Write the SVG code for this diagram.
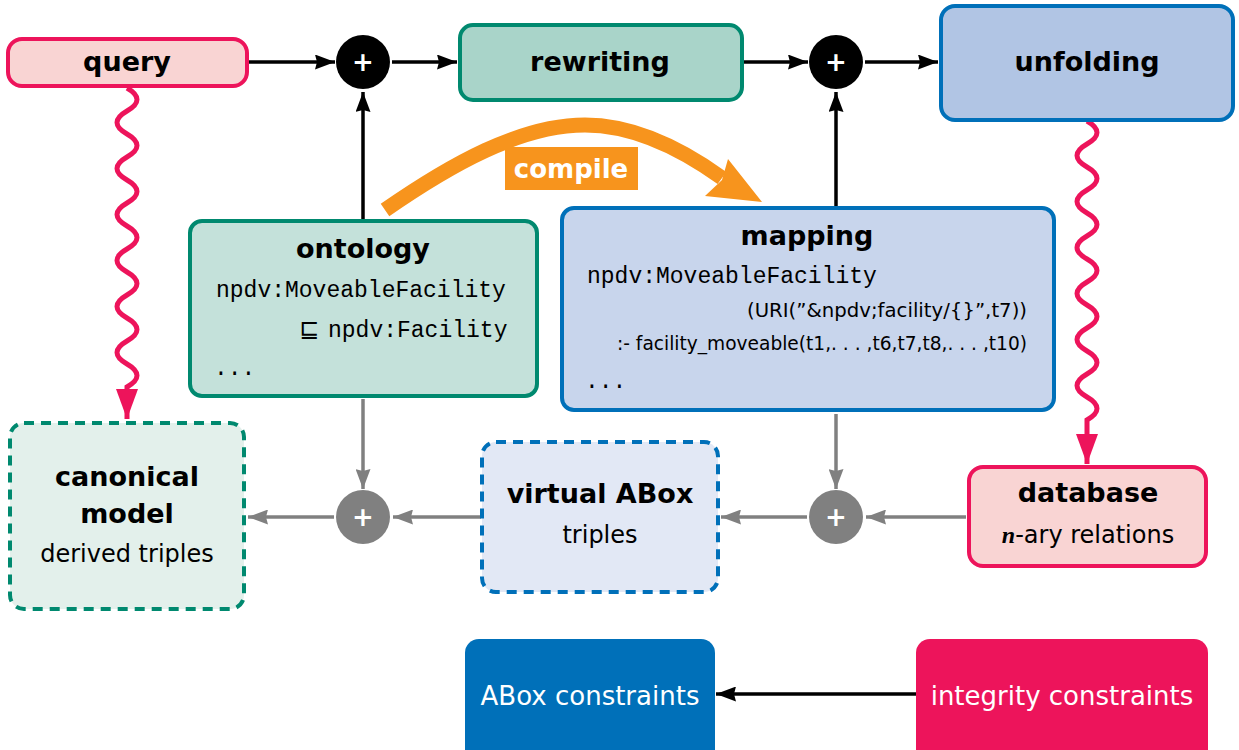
<svg xmlns="http://www.w3.org/2000/svg" width="1239" height="750" viewBox="0 0 1239 750">
<style>
.b{font-family:"DejaVu Sans","Liberation Sans",sans-serif;font-weight:bold;font-size:27px;fill:#000;text-anchor:middle}
.r{font-family:"DejaVu Sans","Liberation Sans",sans-serif;font-size:24px;fill:#000;text-anchor:middle}
.m{font-family:"Liberation Mono","DejaVu Sans Mono",monospace;font-size:23px;fill:#000}
.s{font-family:"DejaVu Sans","Liberation Sans",sans-serif;font-size:20px;fill:#000;text-anchor:end}
.w{font-family:"DejaVu Sans","Liberation Sans",sans-serif;font-size:26px;fill:#fff;text-anchor:middle}
.pl{font-family:"DejaVu Sans",sans-serif;font-weight:bold;font-size:26px;fill:#fff;text-anchor:middle}
.ca{stroke:#000;stroke-width:3.5;fill:none;marker-end:url(#ab)}
.ga{stroke:#808080;stroke-width:3.5;fill:none;marker-end:url(#ag)}
.wv{stroke:#ed145b;stroke-width:5;fill:none;marker-end:url(#ap)}
.pink{fill:#f9d4d3;stroke:#ed145b;stroke-width:4}
.teal{stroke:#00896f;stroke-width:4}
.blue{stroke:#0070b9;stroke-width:4}
.dash{stroke-dasharray:10 7}
</style>
<defs>
<marker id="ab" markerUnits="userSpaceOnUse" viewBox="0 0 20 15" markerWidth="20" markerHeight="15" refX="20" refY="7.5" orient="auto"><path d="M0,0 L20,7.5 L0,15 L2,7.5 z" fill="#000"/></marker>
<marker id="ag" markerUnits="userSpaceOnUse" viewBox="0 0 20 15" markerWidth="20" markerHeight="15" refX="20" refY="7.5" orient="auto"><path d="M0,0 L20,7.5 L0,15 L2,7.5 z" fill="#808080"/></marker>
<marker id="ap" markerUnits="userSpaceOnUse" viewBox="0 0 30 22" markerWidth="30" markerHeight="22" refX="30" refY="11" orient="auto"><path d="M0,0 L30,11 L0,22 z" fill="#ed145b"/></marker>
</defs>
<rect width="1239" height="750" fill="#fff"/>

<g id="connectors">
<path class="ca" d="M248,62 L335,62"/>
<path class="ca" d="M392,62 L457,62"/>
<path class="ca" d="M363,219 L363,92"/>
<path class="ca" d="M744,62 L808,62"/>
<path class="ca" d="M865,62 L938,62"/>
<path class="ca" d="M836,206 L836,92"/>
<path class="ca" d="M916,694 L716,694"/>
<path class="ga" d="M363,399 L363,489"/>
<path class="ga" d="M334,517 L248,517"/>
<path class="ga" d="M481,517 L393,517"/>
<path class="ga" d="M836,414 L836,489"/>
<path class="ga" d="M807,517 L721,517"/>
<path class="ga" d="M966,517 L866,517"/>
<path class="wv" d="M127,88 q20,11.5 0,23 t0,23 t0,23 t0,23 t0,23 t0,23 t0,23 t0,23 t0,23 t0,23 t0,23 t0,23 t0,23 L127,419"/>
<path class="wv" d="M1087,121 q20,11.5 0,23 t0,23 t0,23 t0,23 t0,23 t0,23 t0,23 t0,23 t0,23 t0,23 t0,23 t0,23 t0,23 L1087,464"/>
<g id="compile">
<path d="M385,210 C450,165 520,125 585,125 C640,125 690,155 722,178" fill="none" stroke="#f7941d" stroke-width="15"/>
<polygon points="762,202 728,159 722,180 705,196" fill="#f7941d"/>
<rect x="505" y="147" width="133" height="43" fill="#f7941d"/>
<text class="pl" x="571" y="178">compile</text>
</g>
</g>

<g id="query"><rect class="pink" x="8" y="39" width="239" height="47" rx="14"/><text class="b" x="127" y="71">query</text></g>
<g id="plus1"><circle cx="363" cy="62" r="27" fill="#000"/><text class="pl" x="363" y="71">+</text></g>
<g id="rewriting"><rect class="teal" x="460" y="25" width="282" height="75" rx="13" fill="#a9d4c9"/><text class="b" x="600" y="71">rewriting</text></g>
<g id="plus2"><circle cx="836" cy="62" r="27" fill="#000"/><text class="pl" x="836" y="71">+</text></g>
<g id="unfolding"><rect class="blue" x="941" y="6" width="292" height="114" rx="14" fill="#b1c5e4"/><text class="b" x="1087" y="71">unfolding</text></g>

<g id="ontology"><rect class="teal" x="190" y="221" width="347" height="175" rx="12" fill="#c4e1da"/>
<text class="b" x="363" y="258">ontology</text>
<text class="m" x="216" y="297">npdv:MoveableFacility</text>
<text x="299" y="337" style="font-family:'DejaVu Sans',sans-serif;font-size:24px">⊑</text>
<text class="m" x="328" y="337">npdv:Facility</text>
<text class="m" x="214" y="375">...</text>
</g>

<g id="mapping"><rect class="blue" x="562" y="208" width="492" height="202" rx="12" fill="#c8d5ec"/>
<text class="b" x="807" y="245">mapping</text>
<text class="m" x="587" y="283">npdv:MoveableFacility</text>
<text class="s" x="1027" y="317" textLength="280" lengthAdjust="spacingAndGlyphs">(URI(”&amp;npdv;facility/{}”,t7))</text>
<text class="s" x="1027" y="350" textLength="410" lengthAdjust="spacingAndGlyphs">:- facility_moveable(t1,. . . ,t6,t7,t8,. . . ,t10)</text>
<text class="m" x="585" y="388">...</text>
</g>

<g id="canonical"><rect class="teal dash" x="10" y="423" width="234" height="186" rx="14" fill="#e3f0eb"/>
<text class="b" x="127" y="486">canonical</text>
<text class="b" x="127" y="523">model</text>
<text class="r" x="127" y="562">derived triples</text>
</g>
<g id="gplus1"><circle cx="363" cy="517" r="27" fill="#808080"/><text class="pl" x="363" y="526">+</text></g>
<g id="virtual"><rect class="blue dash" x="482" y="442" width="236" height="150" rx="14" fill="#e2e8f5"/>
<text class="b" x="600" y="503">virtual ABox</text>
<text class="r" x="600" y="543">triples</text>
</g>
<g id="gplus2"><circle cx="836" cy="517" r="27" fill="#808080"/><text class="pl" x="836" y="526">+</text></g>
<g id="database"><rect class="pink" x="969" y="467" width="237" height="99" rx="14"/>
<text class="b" x="1088" y="502">database</text>
<text class="r" x="1088" y="543"><tspan style="font-family:'Liberation Serif',serif;font-style:italic;font-weight:bold">n</tspan>-ary relations</text>
</g>
<g id="abox"><rect x="465" y="639" width="250" height="130" rx="14" fill="#0070b9"/><text class="w" x="590" y="705">ABox constraints</text></g>
<g id="integrity"><rect x="916" y="639" width="292" height="130" rx="14" fill="#ed145b"/><text class="w" x="1062" y="705">integrity constraints</text></g>
</svg>
